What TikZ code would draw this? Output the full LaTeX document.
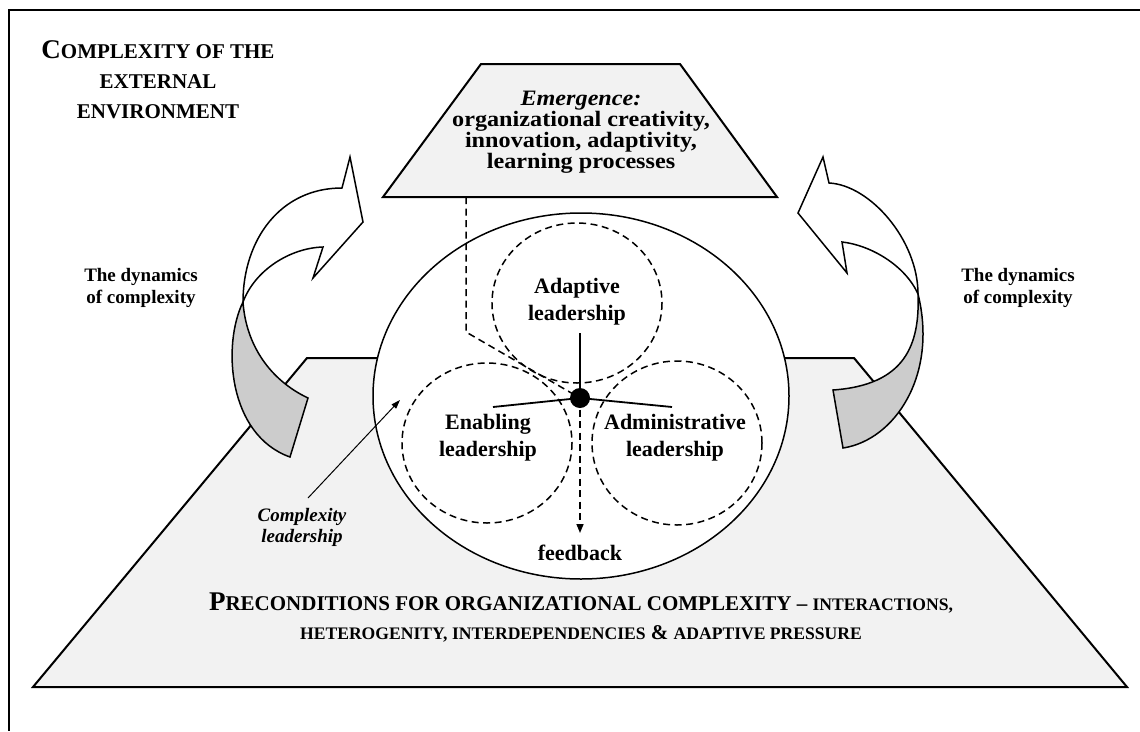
\documentclass[tikz,border=0pt]{standalone}
\usepackage{fontspec}
\setmainfont{Liberation Serif}
\usetikzlibrary{arrows.meta}
\newcommand\BigLet[1]{{\fontsize{27}{30}\selectfont #1}}
\newcommand\MidCap[1]{{\fontsize{21}{30}\selectfont #1}}
\newcommand\SmlCap[1]{{\fontsize{17.6}{30}\selectfont #1}}
\newcommand\WideLine[1]{\scalebox{1.1}[1]{#1}}
\definecolor{paleback}{HTML}{F2F2F2}
\definecolor{ribbongray}{HTML}{CCCCCC}
\begin{document}
\begin{tikzpicture}[x=1pt,y=-1pt,
  thickedge/.style={line width=2pt,line join=miter},
  ribbon/.style={draw,line width=1.5pt,line join=miter},
  dashstroke/.style={line width=1.5pt,dash pattern=on 7pt off 4.5pt},
  lead/.style={font=\bfseries\fontsize{22}{27}\selectfont,align=center,inner sep=0pt},
  dyn/.style={font=\bfseries\fontsize{19}{22}\selectfont,align=center,inner sep=0pt},
  tip/.style={-{Triangle[length=9pt,width=7pt]}}
]
\useasboundingbox (0,0) rectangle (1140,731);
% frame
\draw[line width=2pt] (1140,10) -- (9,10) -- (9,731);
% bottom trapezoid
\draw[thickedge,fill=paleback] (307,358) -- (854,358) -- (1127,687) -- (33,687) -- cycle;
% top trapezoid
\draw[thickedge,fill=paleback] (481,64) -- (680,64) -- (777,197) -- (383,197) -- cycle;
% left ribbon arrow
\coordinate (LP) at (243,302);
\filldraw[ribbon,fill=ribbongray] (LP) .. controls (222,345) and (228,435) .. (290,457) -- (308,398) .. controls (270,380) and (246,345) .. (LP) -- cycle;
\filldraw[ribbon,fill=white] (LP) .. controls (243,240) and (280,188) .. (342,188) -- (350,157) -- (363,222) -- (313,278) -- (323,247) .. controls (290,248) and (255,270) .. (LP) -- cycle;
% right ribbon arrow
\coordinate (RQ) at (918,294);
\filldraw[ribbon,fill=ribbongray] (RQ) .. controls (920,345) and (905,385) .. (833,390) -- (843,448) .. controls (895,440) and (938,375) .. (RQ) -- cycle;
\filldraw[ribbon,fill=white] (RQ) .. controls (918,240) and (870,185) .. (829,183) -- (823,157) -- (798,213) -- (847,273) -- (842,242) .. controls (870,245) and (905,265) .. (RQ) -- cycle;
% complexity leadership ellipse
\draw[line width=1.5pt,fill=white] (581,396) ellipse [x radius=208,y radius=183];
% dashed circles
\draw[dashstroke] (577,303) ellipse [x radius=85,y radius=80];
\draw[dashstroke] (487,443) ellipse [x radius=85,y radius=80];
\draw[dashstroke] (677,443) ellipse [x radius=85,y radius=82];
% hub and spokes
\coordinate (hubc) at (580,398);
\coordinate (spokeU) at (580,333);
\coordinate (spokeL) at (493,407);
\coordinate (spokeR) at (672,407);
\coordinate (emb) at (466,197);
\coordinate (bend) at (466,332);
\coordinate (fbtip) at (580,533);
\draw[line width=1.8pt] (hubc) -- (spokeU);
\draw[line width=1.8pt] (hubc) -- (spokeL);
\draw[line width=1.8pt] (hubc) -- (spokeR);
\draw[dashstroke] (emb) -- (bend) -- (hubc);
\draw[dashstroke,tip] (hubc) -- (fbtip);
\node[circle,fill=black,minimum size=20pt,inner sep=0pt] (hub) at (hubc) {};
% labels
\node[font=\bfseries\fontsize{21}{30}\selectfont,align=center,inner sep=0pt] (title) at (158,80)
  {\BigLet{C}\MidCap{OMPLEXITY OF THE}\\\MidCap{EXTERNAL}\\\MidCap{ENVIRONMENT}};
\node[font=\bfseries\fontsize{22}{21}\selectfont,align=center,inner sep=0pt] (emerg) at (581,132)
  {\WideLine{\textit{Emergence:}}\\\WideLine{organizational creativity,}\\\WideLine{innovation, adaptivity,}\\\WideLine{learning processes}};
\node[dyn] (dynL) at (141,288) {The dynamics\\of complexity};
\node[dyn] (dynR) at (1018,288) {The dynamics\\of complexity};
\node[lead] (adapt) at (577,302) {Adaptive\\leadership};
\node[lead] (enab) at (488,438) {Enabling\\leadership};
\node[lead] (admin) at (675,438) {Administrative\\leadership};
\node[lead] (fb) at (580,553) {feedback};
\node[font=\bfseries\itshape\fontsize{19}{21}\selectfont,align=center,inner sep=0pt] (cl) at (302,527) {Complexity\\leadership};
\coordinate (clStart) at (308,498);
\coordinate (clTip) at (400,400);
\draw[line width=1pt,-{Triangle[length=9pt,width=6pt]}] (clStart) -- (clTip);
\node[font=\bfseries\fontsize{21}{29}\selectfont,align=center,inner sep=0pt] (precond) at (581,618)
  {\BigLet{P}\MidCap{RECONDITIONS FOR ORGANIZATIONAL COMPLEXITY –} \SmlCap{INTERACTIONS,}\\
   \SmlCap{HETEROGENITY, INTERDEPENDENCIES} \MidCap{\&} \SmlCap{ADAPTIVE PRESSURE}};
\end{tikzpicture}
\end{document}
